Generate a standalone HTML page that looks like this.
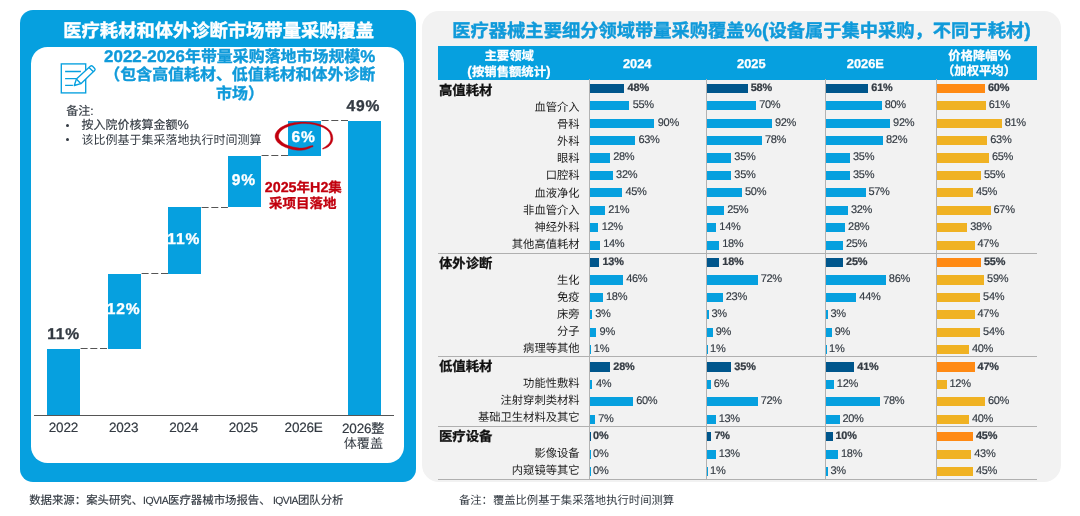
<!DOCTYPE html>
<html lang="zh"><head><meta charset="utf-8"><title>带量采购覆盖</title>
<style>
html,body{margin:0;padding:0;background:#fff}
body{width:1080px;height:516px;position:relative;overflow:hidden;font-family:"Liberation Sans","Noto Sans CJK SC",sans-serif;text-rendering:geometricPrecision}
#page{position:absolute;left:0;top:0;width:1080px;height:516px;will-change:transform}
.r{position:absolute}
.t{position:absolute;white-space:nowrap;line-height:1}
</style></head><body>
<div id="page">
<div class="r" style="left:20.30px;top:10.30px;width:396.00px;height:471.70px;background:#06A0DF;border-radius:13px;"></div>
<div class="r" style="left:31.20px;top:46.60px;width:373.30px;height:416.70px;background:#fff;border-radius:16.5px;"></div>
<div class="t" style="top:22.10px;font-size:18.30px;color:#fff;font-weight:bold;-webkit-text-stroke:0.40px;left:218.70px;transform:translateX(-50%);">医疗耗材和体外诊断市场带量采购覆盖</div>
<div class="t" style="top:48.82px;font-size:15.95px;color:#0F9ADA;font-weight:bold;-webkit-text-stroke:0.35px;right:704.70px;"><span style="font-size:16.91px;">2022-2026</span>年带量采购落地市场规模<span style="font-size:16.91px;">%</span></div>
<div class="t" style="top:68.31px;font-size:15.95px;color:#0F9ADA;font-weight:bold;-webkit-text-stroke:0.35px;right:704.70px;">（包含高值耗材、低值耗材和体外诊断</div>
<div class="t" style="top:86.71px;font-size:15.95px;color:#0F9ADA;font-weight:bold;-webkit-text-stroke:0.35px;left:240.00px;transform:translateX(-50%);">市场）</div>
<svg class="r" style="left:56px;top:58px" width="44" height="40" viewBox="56 58 44 40" fill="none" stroke="#06A0DF" stroke-width="1.35">
<rect x="61.3" y="63.9" width="24.4" height="29"/>
<path d="M65.1 71.5H80.9M65.1 78.6H76.6M65.1 85.4H72.9"/>
<path fill="#fff" stroke-linejoin="round" d="M74.3 85.5L76.4 79L90.3 66.3Q91.5 65.3 92.6 66.3L94.7 68.4Q95.6 69.5 94.6 70.6L80.9 83.7Z"/>
<path d="M76.4 79L80.9 83.7M89 67.6L93.4 71.8"/>
</svg>
<div class="t" style="top:105.05px;font-size:12.00px;color:#333A42;-webkit-text-stroke:0.17px;left:66.20px;">备注:</div>
<div class="r" style="left:66.2px;top:123.6px;width:3px;height:3px;border-radius:50%;background:#333A42"></div>
<div class="t" style="top:119.35px;font-size:12.00px;color:#333A42;-webkit-text-stroke:0.17px;left:81.50px;">按入院价核算金额<span style="font-size:12.72px;">%</span></div>
<div class="r" style="left:66.2px;top:138px;width:3px;height:3px;border-radius:50%;background:#333A42"></div>
<div class="t" style="top:133.75px;font-size:12.00px;color:#333A42;left:81.50px;">该比例基于集采落地执行时间测算</div>
<div class="r" style="left:47.30px;top:348.50px;width:33.10px;height:66.50px;background:#06A0DF;"></div>
<div class="r" style="left:107.50px;top:273.50px;width:33.10px;height:75.00px;background:#06A0DF;"></div>
<div class="r" style="left:167.90px;top:207.00px;width:33.10px;height:66.50px;background:#06A0DF;"></div>
<div class="r" style="left:227.90px;top:155.60px;width:33.10px;height:51.40px;background:#06A0DF;"></div>
<div class="r" style="left:288.00px;top:120.60px;width:33.10px;height:35.00px;background:#06A0DF;"></div>
<div class="r" style="left:348.20px;top:120.60px;width:33.10px;height:294.40px;background:#06A0DF;"></div>
<svg class="r" style="left:80.40px;top:347.00px" width="27.10" height="3"><path d="M0.6 1.5H27.10" stroke="#555" stroke-width="1.1" stroke-dasharray="7 2.7" fill="none"/></svg>
<svg class="r" style="left:140.60px;top:272.00px" width="27.30" height="3"><path d="M0.6 1.5H27.30" stroke="#555" stroke-width="1.1" stroke-dasharray="7 2.7" fill="none"/></svg>
<svg class="r" style="left:201.00px;top:205.50px" width="26.90" height="3"><path d="M0.6 1.5H26.90" stroke="#555" stroke-width="1.1" stroke-dasharray="7 2.7" fill="none"/></svg>
<svg class="r" style="left:261.00px;top:154.10px" width="27.00" height="3"><path d="M0.6 1.5H27.00" stroke="#555" stroke-width="1.1" stroke-dasharray="7 2.7" fill="none"/></svg>
<svg class="r" style="left:321.10px;top:119.10px" width="27.10" height="3"><path d="M0.6 1.5H27.10" stroke="#555" stroke-width="1.1" stroke-dasharray="7 2.7" fill="none"/></svg>
<div class="r" style="left:33.60px;top:414.90px;width:360.20px;height:1.20px;background:#555;"></div>
<div class="t" style="top:326.60px;font-size:15.60px;color:#333A42;font-weight:bold;-webkit-text-stroke:0.34px;letter-spacing:0.80px;left:63.60px;transform:translateX(-50%);">11%</div>
<div class="t" style="top:302.32px;font-size:15.60px;color:#fff;font-weight:bold;-webkit-text-stroke:0.34px;letter-spacing:0.80px;left:123.60px;transform:translateX(-50%);">12%</div>
<div class="t" style="top:232.32px;font-size:15.60px;color:#fff;font-weight:bold;-webkit-text-stroke:0.34px;letter-spacing:0.80px;left:183.70px;transform:translateX(-50%);">11%</div>
<div class="t" style="top:172.90px;font-size:15.60px;color:#fff;font-weight:bold;-webkit-text-stroke:0.34px;letter-spacing:0.80px;left:243.90px;transform:translateX(-50%);">9%</div>
<div class="t" style="top:129.90px;font-size:15.60px;color:#fff;font-weight:bold;-webkit-text-stroke:0.34px;letter-spacing:0.80px;left:303.60px;transform:translateX(-50%);">6%</div>
<div class="t" style="top:99.20px;font-size:15.60px;color:#333A42;font-weight:bold;-webkit-text-stroke:0.34px;letter-spacing:0.80px;left:363.40px;transform:translateX(-50%);">49%</div>
<svg class="r" style="left:265px;top:115px" width="80" height="45" viewBox="265 115 80 45"><path d="M312.8 145.5L311.4 145.8L310.1 146.1L308.7 146.5L307.4 146.9L305.9 147.4L304.4 147.8L302.7 148.0L301.1 148.1L299.4 148.1L297.8 147.8L296.1 147.6L294.5 147.3L292.9 146.9L291.3 146.5L289.8 146.1L288.4 145.6L287.0 145.1L285.8 144.5L284.6 143.9L283.5 143.2L282.5 142.5L281.6 141.8L280.8 141.1L280.1 140.3L279.6 139.6L279.2 138.9L278.8 138.2L278.6 137.5L278.5 136.8L278.5 136.1L278.6 135.4L278.7 134.7L278.9 134.0L279.3 133.3L279.7 132.5L280.3 131.7L280.9 131.0L281.7 130.2L282.6 129.5L283.7 128.8L284.8 128.1L286.0 127.5L287.4 126.9L288.8 126.3L290.2 125.8L291.8 125.3L293.4 124.9L295.0 124.5L296.7 124.2L298.4 123.9L300.2 123.7L302.0 123.6L303.8 123.6L305.6 123.6L307.4 123.7L309.1 123.8L310.9 124.0L312.6 124.3L314.3 124.6L315.9 125.0L317.5 125.4L319.1 125.9L320.5 126.4L321.9 127.0L323.2 127.6L324.4 128.3L325.5 129.0L326.5 129.7L327.4 130.4L328.2 131.2L328.9 132.0L329.4 132.8L329.8 133.7L330.1 134.5L330.4 135.4L330.5 136.2L330.7 137.1L330.8 138.0L330.8 138.8L330.7 139.7L330.5 140.6L330.2 141.4L329.8 142.3L329.2 143.2L328.5 144.1L327.6 145.0L326.5 145.8L325.4 146.7L324.0 147.6L322.5 148.4L322.8 149.2L324.5 148.6L326.1 148.0L327.5 147.3L328.8 146.4L329.8 145.4L330.7 144.4L331.5 143.3L332.0 142.2L332.5 141.1L332.7 140.0L332.9 138.9L332.8 137.9L332.7 136.8L332.5 135.8L332.3 134.8L331.9 133.9L331.5 132.9L331.0 131.9L330.3 131.0L329.5 130.0L328.6 129.2L327.6 128.3L326.5 127.6L325.2 126.8L323.9 126.1L322.6 125.5L321.1 124.9L319.6 124.3L318.0 123.9L316.3 123.4L314.6 123.1L312.9 122.8L311.1 122.5L309.3 122.3L307.5 122.2L305.6 122.1L303.8 122.1L301.9 122.1L300.1 122.1L298.3 122.2L296.4 122.4L294.7 122.6L292.9 122.9L291.2 123.2L289.6 123.6L288.0 124.1L286.5 124.7L285.0 125.3L283.7 125.9L282.4 126.6L281.2 127.3L280.0 128.1L279.0 128.9L278.1 129.8L277.3 130.7L276.6 131.7L276.0 132.7L275.5 133.8L275.2 134.9L275.1 136.0L275.1 137.2L275.4 138.3L275.8 139.4L276.3 140.5L277.0 141.5L277.8 142.4L278.7 143.3L279.7 144.1L280.8 144.9L282.0 145.7L283.3 146.3L284.6 147.0L286.0 147.6L287.5 148.1L289.1 148.6L290.7 149.0L292.3 149.4L294.0 149.8L295.7 150.0L297.5 150.2L299.3 150.3L301.1 150.3L303.0 150.1L304.8 149.8L306.5 149.3L308.0 148.8L309.4 148.3L310.7 147.6L311.8 147.1L313.1 146.7Z" fill="#C2000E" stroke="#C2000E" stroke-width="0.4" stroke-linejoin="round"/></svg>
<div class="t" style="top:181.47px;font-size:13.50px;color:#C2000E;font-weight:bold;-webkit-text-stroke:0.30px;left:303.30px;transform:translateX(-50%);"><span style="font-size:14.31px;">2025</span>年<span style="font-size:14.31px;">H2</span>集</div>
<div class="t" style="top:197.07px;font-size:13.50px;color:#C2000E;font-weight:bold;-webkit-text-stroke:0.30px;left:302.80px;transform:translateX(-50%);">采项目落地</div>
<div class="t" style="top:421.47px;font-size:13.50px;color:#333A42;-webkit-text-stroke:0.19px;letter-spacing:-0.20px;left:63.40px;transform:translateX(-50%);">2022</div>
<div class="t" style="top:421.47px;font-size:13.50px;color:#333A42;-webkit-text-stroke:0.19px;letter-spacing:-0.20px;left:123.60px;transform:translateX(-50%);">2023</div>
<div class="t" style="top:421.47px;font-size:13.50px;color:#333A42;-webkit-text-stroke:0.19px;letter-spacing:-0.20px;left:183.80px;transform:translateX(-50%);">2024</div>
<div class="t" style="top:421.47px;font-size:13.50px;color:#333A42;-webkit-text-stroke:0.19px;letter-spacing:-0.20px;left:243.30px;transform:translateX(-50%);">2025</div>
<div class="t" style="top:421.47px;font-size:13.50px;color:#333A42;-webkit-text-stroke:0.19px;letter-spacing:-0.20px;left:303.60px;transform:translateX(-50%);">2026E</div>
<div class="t" style="top:421.82px;font-size:13.10px;color:#333A42;-webkit-text-stroke:0.18px;left:363.20px;transform:translateX(-50%);"><span style="font-size:13.5px;letter-spacing:-0.2px;">2026</span>整</div>
<div class="t" style="top:437.42px;font-size:13.10px;color:#333A42;left:363.40px;transform:translateX(-50%);">体覆盖</div>
<div class="t" style="top:495.56px;font-size:11.40px;color:#333A42;-webkit-text-stroke:0.16px;left:29.20px;">数据来源：案头研究、<span style="font-size:10.4px;letter-spacing:-0.55px">IQVIA</span>医疗器械市场报告、<span style="font-size:10.4px;letter-spacing:-0.55px">&nbsp;IQVIA</span>团队分析</div>
<div class="r" style="left:422.00px;top:10.80px;width:638.60px;height:471.00px;background:#F2F2F2;border-radius:17px;"></div>
<div class="t" style="top:22.15px;font-size:18.27px;color:#0F9ADA;font-weight:bold;-webkit-text-stroke:0.40px;left:452.30px;">医疗器械主要细分领域带量采购覆盖<span style="font-size:19.55px;">%(</span>设备属于集中采购，不同于耗材<span style="font-size:19.55px;">)</span></div>
<div class="r" style="left:438.20px;top:46.20px;width:598.90px;height:33.40px;background:#06A0DF;"></div>
<div class="t" style="top:49.55px;font-size:12.35px;color:#fff;font-weight:bold;-webkit-text-stroke:0.27px;left:509.20px;transform:translateX(-50%);">主要领域</div>
<div class="t" style="top:65.12px;font-size:12.35px;color:#fff;font-weight:bold;-webkit-text-stroke:0.27px;left:509.00px;transform:translateX(-50%);"><span style="font-size:13.83px;">(</span>按销售额统计<span style="font-size:13.83px;">)</span></div>
<div class="t" style="top:57.54px;font-size:12.83px;color:#fff;font-weight:bold;-webkit-text-stroke:0.28px;left:637.20px;transform:translateX(-50%);">2024</div>
<div class="t" style="top:57.54px;font-size:12.83px;color:#fff;font-weight:bold;-webkit-text-stroke:0.28px;left:751.30px;transform:translateX(-50%);">2025</div>
<div class="t" style="top:57.54px;font-size:12.83px;color:#fff;font-weight:bold;-webkit-text-stroke:0.28px;left:865.30px;transform:translateX(-50%);">2026E</div>
<div class="t" style="top:49.43px;font-size:12.35px;color:#fff;font-weight:bold;-webkit-text-stroke:0.27px;left:979.50px;transform:translateX(-50%);">价格降幅<span style="font-size:14.57px;">%</span></div>
<div class="t" style="top:65.24px;font-size:12.35px;color:#fff;font-weight:bold;-webkit-text-stroke:0.27px;left:979.00px;transform:translateX(-50%);">（加权平均）</div>
<div class="r" style="left:589.00px;top:79.40px;width:1.00px;height:400.30px;background:#b2b2b2;"></div>
<div class="r" style="left:705.90px;top:79.40px;width:1.00px;height:400.30px;background:#b2b2b2;"></div>
<div class="r" style="left:824.90px;top:79.40px;width:1.00px;height:400.30px;background:#b2b2b2;"></div>
<div class="r" style="left:936.40px;top:79.40px;width:1.00px;height:400.30px;background:#b2b2b2;"></div>
<div class="r" style="left:438.20px;top:252.80px;width:598.70px;height:1.00px;background:#b0b0b0;"></div>
<div class="r" style="left:438.20px;top:355.50px;width:598.70px;height:1.00px;background:#b0b0b0;"></div>
<div class="r" style="left:438.20px;top:425.50px;width:598.70px;height:1.00px;background:#b0b0b0;"></div>
<div class="r" style="left:438.20px;top:478.70px;width:598.70px;height:1.00px;background:#b0b0b0;"></div>
<div class="t" style="top:83.88px;font-size:13.35px;color:#111;font-weight:bold;-webkit-text-stroke:0.29px;left:439.00px;">高值耗材</div>
<div class="r" style="left:589.60px;top:83.75px;width:34.51px;height:9.20px;background:#00568C;"></div>
<div class="t" style="top:83.02px;font-size:10.90px;color:#333A42;font-weight:bold;-webkit-text-stroke:0.24px;letter-spacing:-0.15px;left:627.61px;">48%</div>
<div class="r" style="left:706.50px;top:83.75px;width:41.30px;height:9.20px;background:#00568C;"></div>
<div class="t" style="top:83.02px;font-size:10.90px;color:#333A42;font-weight:bold;-webkit-text-stroke:0.24px;letter-spacing:-0.15px;left:750.70px;">58%</div>
<div class="r" style="left:825.50px;top:83.75px;width:42.88px;height:9.20px;background:#00568C;"></div>
<div class="t" style="top:83.02px;font-size:10.90px;color:#333A42;font-weight:bold;-webkit-text-stroke:0.24px;letter-spacing:-0.15px;left:871.28px;">61%</div>
<div class="r" style="left:937.00px;top:83.75px;width:48.00px;height:9.20px;background:#FF8A14;"></div>
<div class="t" style="top:83.02px;font-size:10.90px;color:#333A42;font-weight:bold;-webkit-text-stroke:0.24px;letter-spacing:-0.15px;left:987.90px;">60%</div>
<div class="t" style="top:102.75px;font-size:11.30px;color:#1c1c1c;right:500.40px;">血管介入</div>
<div class="r" style="left:589.60px;top:101.17px;width:39.55px;height:9.20px;background:#06A0DF;"></div>
<div class="t" style="top:100.10px;font-size:11.00px;color:#333A42;-webkit-text-stroke:0.15px;letter-spacing:-0.30px;left:632.64px;">55%</div>
<div class="r" style="left:706.50px;top:101.17px;width:49.84px;height:9.20px;background:#06A0DF;"></div>
<div class="t" style="top:100.10px;font-size:11.00px;color:#333A42;-webkit-text-stroke:0.15px;letter-spacing:-0.30px;left:759.24px;">70%</div>
<div class="r" style="left:825.50px;top:101.17px;width:56.24px;height:9.20px;background:#06A0DF;"></div>
<div class="t" style="top:100.10px;font-size:11.00px;color:#333A42;-webkit-text-stroke:0.15px;letter-spacing:-0.30px;left:884.64px;">80%</div>
<div class="r" style="left:937.00px;top:101.17px;width:48.80px;height:9.20px;background:#F0B223;"></div>
<div class="t" style="top:100.10px;font-size:11.00px;color:#333A42;-webkit-text-stroke:0.15px;letter-spacing:-0.30px;left:988.70px;">61%</div>
<div class="t" style="top:119.91px;font-size:11.30px;color:#1c1c1c;right:500.40px;">骨科</div>
<div class="r" style="left:589.60px;top:118.59px;width:64.71px;height:9.20px;background:#06A0DF;"></div>
<div class="t" style="top:117.53px;font-size:11.00px;color:#333A42;-webkit-text-stroke:0.15px;letter-spacing:-0.30px;left:657.81px;">90%</div>
<div class="r" style="left:706.50px;top:118.59px;width:65.50px;height:9.20px;background:#06A0DF;"></div>
<div class="t" style="top:117.53px;font-size:11.00px;color:#333A42;-webkit-text-stroke:0.15px;letter-spacing:-0.30px;left:774.90px;">92%</div>
<div class="r" style="left:825.50px;top:118.59px;width:64.68px;height:9.20px;background:#06A0DF;"></div>
<div class="t" style="top:117.53px;font-size:11.00px;color:#333A42;-webkit-text-stroke:0.15px;letter-spacing:-0.30px;left:893.08px;">92%</div>
<div class="r" style="left:937.00px;top:118.59px;width:64.80px;height:9.20px;background:#F0B223;"></div>
<div class="t" style="top:117.53px;font-size:11.00px;color:#333A42;-webkit-text-stroke:0.15px;letter-spacing:-0.30px;left:1004.70px;">81%</div>
<div class="t" style="top:137.04px;font-size:11.30px;color:#1c1c1c;right:500.40px;">外科</div>
<div class="r" style="left:589.60px;top:136.01px;width:45.30px;height:9.20px;background:#06A0DF;"></div>
<div class="t" style="top:134.95px;font-size:11.00px;color:#333A42;-webkit-text-stroke:0.15px;letter-spacing:-0.30px;left:638.40px;">63%</div>
<div class="r" style="left:706.50px;top:136.01px;width:55.54px;height:9.20px;background:#06A0DF;"></div>
<div class="t" style="top:134.95px;font-size:11.00px;color:#333A42;-webkit-text-stroke:0.15px;letter-spacing:-0.30px;left:764.94px;">78%</div>
<div class="r" style="left:825.50px;top:136.01px;width:57.65px;height:9.20px;background:#06A0DF;"></div>
<div class="t" style="top:134.95px;font-size:11.00px;color:#333A42;-webkit-text-stroke:0.15px;letter-spacing:-0.30px;left:886.05px;">82%</div>
<div class="r" style="left:937.00px;top:136.01px;width:50.40px;height:9.20px;background:#F0B223;"></div>
<div class="t" style="top:134.95px;font-size:11.00px;color:#333A42;-webkit-text-stroke:0.15px;letter-spacing:-0.30px;left:990.30px;">63%</div>
<div class="t" style="top:154.20px;font-size:11.30px;color:#1c1c1c;right:500.40px;">眼科</div>
<div class="r" style="left:589.60px;top:153.43px;width:20.13px;height:9.20px;background:#06A0DF;"></div>
<div class="t" style="top:152.37px;font-size:11.00px;color:#333A42;-webkit-text-stroke:0.15px;letter-spacing:-0.30px;left:613.23px;">28%</div>
<div class="r" style="left:706.50px;top:153.43px;width:24.92px;height:9.20px;background:#06A0DF;"></div>
<div class="t" style="top:152.37px;font-size:11.00px;color:#333A42;-webkit-text-stroke:0.15px;letter-spacing:-0.30px;left:734.32px;">35%</div>
<div class="r" style="left:825.50px;top:153.43px;width:24.60px;height:9.20px;background:#06A0DF;"></div>
<div class="t" style="top:152.37px;font-size:11.00px;color:#333A42;-webkit-text-stroke:0.15px;letter-spacing:-0.30px;left:853.00px;">35%</div>
<div class="r" style="left:937.00px;top:153.43px;width:52.00px;height:9.20px;background:#F0B223;"></div>
<div class="t" style="top:152.37px;font-size:11.00px;color:#333A42;-webkit-text-stroke:0.15px;letter-spacing:-0.30px;left:991.90px;">65%</div>
<div class="t" style="top:171.35px;font-size:11.30px;color:#1c1c1c;right:500.40px;">口腔科</div>
<div class="r" style="left:589.60px;top:170.85px;width:23.01px;height:9.20px;background:#06A0DF;"></div>
<div class="t" style="top:169.79px;font-size:11.00px;color:#333A42;-webkit-text-stroke:0.15px;letter-spacing:-0.30px;left:616.11px;">32%</div>
<div class="r" style="left:706.50px;top:170.85px;width:24.92px;height:9.20px;background:#06A0DF;"></div>
<div class="t" style="top:169.79px;font-size:11.00px;color:#333A42;-webkit-text-stroke:0.15px;letter-spacing:-0.30px;left:734.32px;">35%</div>
<div class="r" style="left:825.50px;top:170.85px;width:24.60px;height:9.20px;background:#06A0DF;"></div>
<div class="t" style="top:169.79px;font-size:11.00px;color:#333A42;-webkit-text-stroke:0.15px;letter-spacing:-0.30px;left:853.00px;">35%</div>
<div class="r" style="left:937.00px;top:170.85px;width:44.00px;height:9.20px;background:#F0B223;"></div>
<div class="t" style="top:169.79px;font-size:11.00px;color:#333A42;-webkit-text-stroke:0.15px;letter-spacing:-0.30px;left:983.90px;">55%</div>
<div class="t" style="top:188.50px;font-size:11.30px;color:#1c1c1c;right:500.40px;">血液净化</div>
<div class="r" style="left:589.60px;top:188.27px;width:32.35px;height:9.20px;background:#06A0DF;"></div>
<div class="t" style="top:187.21px;font-size:11.00px;color:#333A42;-webkit-text-stroke:0.15px;letter-spacing:-0.30px;left:625.46px;">45%</div>
<div class="r" style="left:706.50px;top:188.27px;width:35.60px;height:9.20px;background:#06A0DF;"></div>
<div class="t" style="top:187.21px;font-size:11.00px;color:#333A42;-webkit-text-stroke:0.15px;letter-spacing:-0.30px;left:745.00px;">50%</div>
<div class="r" style="left:825.50px;top:188.27px;width:40.07px;height:9.20px;background:#06A0DF;"></div>
<div class="t" style="top:187.21px;font-size:11.00px;color:#333A42;-webkit-text-stroke:0.15px;letter-spacing:-0.30px;left:868.47px;">57%</div>
<div class="r" style="left:937.00px;top:188.27px;width:36.00px;height:9.20px;background:#F0B223;"></div>
<div class="t" style="top:187.21px;font-size:11.00px;color:#333A42;-webkit-text-stroke:0.15px;letter-spacing:-0.30px;left:975.90px;">45%</div>
<div class="t" style="top:205.66px;font-size:11.30px;color:#1c1c1c;right:500.40px;">非血管介入</div>
<div class="r" style="left:589.60px;top:205.69px;width:15.10px;height:9.20px;background:#06A0DF;"></div>
<div class="t" style="top:204.63px;font-size:11.00px;color:#333A42;-webkit-text-stroke:0.15px;letter-spacing:-0.30px;left:608.20px;">21%</div>
<div class="r" style="left:706.50px;top:205.69px;width:17.80px;height:9.20px;background:#06A0DF;"></div>
<div class="t" style="top:204.63px;font-size:11.00px;color:#333A42;-webkit-text-stroke:0.15px;letter-spacing:-0.30px;left:727.20px;">25%</div>
<div class="r" style="left:825.50px;top:205.69px;width:22.50px;height:9.20px;background:#06A0DF;"></div>
<div class="t" style="top:204.63px;font-size:11.00px;color:#333A42;-webkit-text-stroke:0.15px;letter-spacing:-0.30px;left:850.90px;">32%</div>
<div class="r" style="left:937.00px;top:205.69px;width:53.60px;height:9.20px;background:#F0B223;"></div>
<div class="t" style="top:204.63px;font-size:11.00px;color:#333A42;-webkit-text-stroke:0.15px;letter-spacing:-0.30px;left:993.50px;">67%</div>
<div class="t" style="top:222.79px;font-size:11.30px;color:#1c1c1c;right:500.40px;">神经外科</div>
<div class="r" style="left:589.60px;top:223.11px;width:8.63px;height:9.20px;background:#06A0DF;"></div>
<div class="t" style="top:222.05px;font-size:11.00px;color:#333A42;-webkit-text-stroke:0.15px;letter-spacing:-0.30px;left:601.73px;">12%</div>
<div class="r" style="left:706.50px;top:223.11px;width:9.97px;height:9.20px;background:#06A0DF;"></div>
<div class="t" style="top:222.05px;font-size:11.00px;color:#333A42;-webkit-text-stroke:0.15px;letter-spacing:-0.30px;left:719.37px;">14%</div>
<div class="r" style="left:825.50px;top:223.11px;width:19.68px;height:9.20px;background:#06A0DF;"></div>
<div class="t" style="top:222.05px;font-size:11.00px;color:#333A42;-webkit-text-stroke:0.15px;letter-spacing:-0.30px;left:848.08px;">28%</div>
<div class="r" style="left:937.00px;top:223.11px;width:30.40px;height:9.20px;background:#F0B223;"></div>
<div class="t" style="top:222.05px;font-size:11.00px;color:#333A42;-webkit-text-stroke:0.15px;letter-spacing:-0.30px;left:970.30px;">38%</div>
<div class="t" style="top:239.95px;font-size:11.30px;color:#1c1c1c;right:500.40px;">其他高值耗材</div>
<div class="r" style="left:589.60px;top:240.53px;width:10.07px;height:9.20px;background:#06A0DF;"></div>
<div class="t" style="top:239.46px;font-size:11.00px;color:#333A42;-webkit-text-stroke:0.15px;letter-spacing:-0.30px;left:603.17px;">14%</div>
<div class="r" style="left:706.50px;top:240.53px;width:12.82px;height:9.20px;background:#06A0DF;"></div>
<div class="t" style="top:239.46px;font-size:11.00px;color:#333A42;-webkit-text-stroke:0.15px;letter-spacing:-0.30px;left:722.22px;">18%</div>
<div class="r" style="left:825.50px;top:240.53px;width:17.57px;height:9.20px;background:#06A0DF;"></div>
<div class="t" style="top:239.46px;font-size:11.00px;color:#333A42;-webkit-text-stroke:0.15px;letter-spacing:-0.30px;left:845.98px;">25%</div>
<div class="r" style="left:937.00px;top:240.53px;width:37.60px;height:9.20px;background:#F0B223;"></div>
<div class="t" style="top:239.46px;font-size:11.00px;color:#333A42;-webkit-text-stroke:0.15px;letter-spacing:-0.30px;left:977.50px;">47%</div>
<div class="t" style="top:257.28px;font-size:13.35px;color:#111;font-weight:bold;-webkit-text-stroke:0.29px;left:439.00px;">体外诊断</div>
<div class="r" style="left:589.60px;top:257.95px;width:9.35px;height:9.20px;background:#00568C;"></div>
<div class="t" style="top:257.22px;font-size:10.90px;color:#333A42;font-weight:bold;-webkit-text-stroke:0.24px;letter-spacing:-0.15px;left:602.45px;">13%</div>
<div class="r" style="left:706.50px;top:257.95px;width:12.82px;height:9.20px;background:#00568C;"></div>
<div class="t" style="top:257.22px;font-size:10.90px;color:#333A42;font-weight:bold;-webkit-text-stroke:0.24px;letter-spacing:-0.15px;left:722.22px;">18%</div>
<div class="r" style="left:825.50px;top:257.95px;width:17.57px;height:9.20px;background:#00568C;"></div>
<div class="t" style="top:257.22px;font-size:10.90px;color:#333A42;font-weight:bold;-webkit-text-stroke:0.24px;letter-spacing:-0.15px;left:845.98px;">25%</div>
<div class="r" style="left:937.00px;top:257.95px;width:44.00px;height:9.20px;background:#FF8A14;"></div>
<div class="t" style="top:257.22px;font-size:10.90px;color:#333A42;font-weight:bold;-webkit-text-stroke:0.24px;letter-spacing:-0.15px;left:983.90px;">55%</div>
<div class="t" style="top:276.04px;font-size:11.30px;color:#1c1c1c;right:500.40px;">生化</div>
<div class="r" style="left:589.60px;top:275.37px;width:33.07px;height:9.20px;background:#06A0DF;"></div>
<div class="t" style="top:274.31px;font-size:11.00px;color:#333A42;-webkit-text-stroke:0.15px;letter-spacing:-0.30px;left:626.17px;">46%</div>
<div class="r" style="left:706.50px;top:275.37px;width:51.26px;height:9.20px;background:#06A0DF;"></div>
<div class="t" style="top:274.31px;font-size:11.00px;color:#333A42;-webkit-text-stroke:0.15px;letter-spacing:-0.30px;left:760.66px;">72%</div>
<div class="r" style="left:825.50px;top:275.37px;width:60.46px;height:9.20px;background:#06A0DF;"></div>
<div class="t" style="top:274.31px;font-size:11.00px;color:#333A42;-webkit-text-stroke:0.15px;letter-spacing:-0.30px;left:888.86px;">86%</div>
<div class="r" style="left:937.00px;top:275.37px;width:47.20px;height:9.20px;background:#F0B223;"></div>
<div class="t" style="top:274.31px;font-size:11.00px;color:#333A42;-webkit-text-stroke:0.15px;letter-spacing:-0.30px;left:987.10px;">59%</div>
<div class="t" style="top:293.10px;font-size:11.30px;color:#1c1c1c;right:500.40px;">免疫</div>
<div class="r" style="left:589.60px;top:292.79px;width:12.94px;height:9.20px;background:#06A0DF;"></div>
<div class="t" style="top:291.73px;font-size:11.00px;color:#333A42;-webkit-text-stroke:0.15px;letter-spacing:-0.30px;left:606.04px;">18%</div>
<div class="r" style="left:706.50px;top:292.79px;width:16.38px;height:9.20px;background:#06A0DF;"></div>
<div class="t" style="top:291.73px;font-size:11.00px;color:#333A42;-webkit-text-stroke:0.15px;letter-spacing:-0.30px;left:725.78px;">23%</div>
<div class="r" style="left:825.50px;top:292.79px;width:30.93px;height:9.20px;background:#06A0DF;"></div>
<div class="t" style="top:291.73px;font-size:11.00px;color:#333A42;-webkit-text-stroke:0.15px;letter-spacing:-0.30px;left:859.33px;">44%</div>
<div class="r" style="left:937.00px;top:292.79px;width:43.20px;height:9.20px;background:#F0B223;"></div>
<div class="t" style="top:291.73px;font-size:11.00px;color:#333A42;-webkit-text-stroke:0.15px;letter-spacing:-0.30px;left:983.10px;">54%</div>
<div class="t" style="top:310.16px;font-size:11.30px;color:#1c1c1c;right:500.40px;">床旁</div>
<div class="r" style="left:589.60px;top:310.21px;width:2.16px;height:9.20px;background:#06A0DF;"></div>
<div class="t" style="top:309.15px;font-size:11.00px;color:#333A42;-webkit-text-stroke:0.15px;letter-spacing:-0.30px;left:595.26px;">3%</div>
<div class="r" style="left:706.50px;top:310.21px;width:2.14px;height:9.20px;background:#06A0DF;"></div>
<div class="t" style="top:309.15px;font-size:11.00px;color:#333A42;-webkit-text-stroke:0.15px;letter-spacing:-0.30px;left:711.54px;">3%</div>
<div class="r" style="left:825.50px;top:310.21px;width:2.11px;height:9.20px;background:#06A0DF;"></div>
<div class="t" style="top:309.15px;font-size:11.00px;color:#333A42;-webkit-text-stroke:0.15px;letter-spacing:-0.30px;left:830.51px;">3%</div>
<div class="r" style="left:937.00px;top:310.21px;width:37.60px;height:9.20px;background:#F0B223;"></div>
<div class="t" style="top:309.15px;font-size:11.00px;color:#333A42;-webkit-text-stroke:0.15px;letter-spacing:-0.30px;left:977.50px;">47%</div>
<div class="t" style="top:327.20px;font-size:11.30px;color:#1c1c1c;right:500.40px;">分子</div>
<div class="r" style="left:589.60px;top:327.63px;width:6.47px;height:9.20px;background:#06A0DF;"></div>
<div class="t" style="top:326.57px;font-size:11.00px;color:#333A42;-webkit-text-stroke:0.15px;letter-spacing:-0.30px;left:599.57px;">9%</div>
<div class="r" style="left:706.50px;top:327.63px;width:6.41px;height:9.20px;background:#06A0DF;"></div>
<div class="t" style="top:326.57px;font-size:11.00px;color:#333A42;-webkit-text-stroke:0.15px;letter-spacing:-0.30px;left:715.81px;">9%</div>
<div class="r" style="left:825.50px;top:327.63px;width:6.33px;height:9.20px;background:#06A0DF;"></div>
<div class="t" style="top:326.57px;font-size:11.00px;color:#333A42;-webkit-text-stroke:0.15px;letter-spacing:-0.30px;left:834.73px;">9%</div>
<div class="r" style="left:937.00px;top:327.63px;width:43.20px;height:9.20px;background:#F0B223;"></div>
<div class="t" style="top:326.57px;font-size:11.00px;color:#333A42;-webkit-text-stroke:0.15px;letter-spacing:-0.30px;left:983.10px;">54%</div>
<div class="t" style="top:344.25px;font-size:11.30px;color:#1c1c1c;right:500.40px;">病理等其他</div>
<div class="r" style="left:589.60px;top:345.05px;width:0.80px;height:9.20px;background:#06A0DF;"></div>
<div class="t" style="top:343.99px;font-size:11.00px;color:#333A42;-webkit-text-stroke:0.15px;letter-spacing:-0.30px;left:593.82px;">1%</div>
<div class="r" style="left:706.50px;top:345.05px;width:0.80px;height:9.20px;background:#06A0DF;"></div>
<div class="t" style="top:343.99px;font-size:11.00px;color:#333A42;-webkit-text-stroke:0.15px;letter-spacing:-0.30px;left:710.11px;">1%</div>
<div class="r" style="left:825.50px;top:345.05px;width:0.80px;height:9.20px;background:#06A0DF;"></div>
<div class="t" style="top:343.99px;font-size:11.00px;color:#333A42;-webkit-text-stroke:0.15px;letter-spacing:-0.30px;left:829.10px;">1%</div>
<div class="r" style="left:937.00px;top:345.05px;width:32.00px;height:9.20px;background:#F0B223;"></div>
<div class="t" style="top:343.99px;font-size:11.00px;color:#333A42;-webkit-text-stroke:0.15px;letter-spacing:-0.30px;left:971.90px;">40%</div>
<div class="t" style="top:360.47px;font-size:13.35px;color:#111;font-weight:bold;-webkit-text-stroke:0.29px;left:439.00px;">低值耗材</div>
<div class="r" style="left:589.60px;top:362.47px;width:20.13px;height:9.20px;background:#00568C;"></div>
<div class="t" style="top:361.74px;font-size:10.90px;color:#333A42;font-weight:bold;-webkit-text-stroke:0.24px;letter-spacing:-0.15px;left:613.23px;">28%</div>
<div class="r" style="left:706.50px;top:362.47px;width:24.92px;height:9.20px;background:#00568C;"></div>
<div class="t" style="top:361.74px;font-size:10.90px;color:#333A42;font-weight:bold;-webkit-text-stroke:0.24px;letter-spacing:-0.15px;left:734.32px;">35%</div>
<div class="r" style="left:825.50px;top:362.47px;width:28.82px;height:9.20px;background:#00568C;"></div>
<div class="t" style="top:361.74px;font-size:10.90px;color:#333A42;font-weight:bold;-webkit-text-stroke:0.24px;letter-spacing:-0.15px;left:857.22px;">41%</div>
<div class="r" style="left:937.00px;top:362.47px;width:37.60px;height:9.20px;background:#FF8A14;"></div>
<div class="t" style="top:361.74px;font-size:10.90px;color:#333A42;font-weight:bold;-webkit-text-stroke:0.24px;letter-spacing:-0.15px;left:977.50px;">47%</div>
<div class="t" style="top:379.04px;font-size:11.30px;color:#1c1c1c;right:500.40px;">功能性敷料</div>
<div class="r" style="left:589.60px;top:379.89px;width:2.88px;height:9.20px;background:#06A0DF;"></div>
<div class="t" style="top:378.82px;font-size:11.00px;color:#333A42;-webkit-text-stroke:0.15px;letter-spacing:-0.30px;left:595.98px;">4%</div>
<div class="r" style="left:706.50px;top:379.89px;width:4.27px;height:9.20px;background:#06A0DF;"></div>
<div class="t" style="top:378.82px;font-size:11.00px;color:#333A42;-webkit-text-stroke:0.15px;letter-spacing:-0.30px;left:713.67px;">6%</div>
<div class="r" style="left:825.50px;top:379.89px;width:8.44px;height:9.20px;background:#06A0DF;"></div>
<div class="t" style="top:378.82px;font-size:11.00px;color:#333A42;-webkit-text-stroke:0.15px;letter-spacing:-0.30px;left:836.84px;">12%</div>
<div class="r" style="left:937.00px;top:379.89px;width:9.60px;height:9.20px;background:#F0B223;"></div>
<div class="t" style="top:378.82px;font-size:11.00px;color:#333A42;-webkit-text-stroke:0.15px;letter-spacing:-0.30px;left:949.50px;">12%</div>
<div class="t" style="top:395.91px;font-size:11.30px;color:#1c1c1c;right:500.40px;">注射穿刺类材料</div>
<div class="r" style="left:589.60px;top:397.31px;width:43.14px;height:9.20px;background:#06A0DF;"></div>
<div class="t" style="top:396.24px;font-size:11.00px;color:#333A42;-webkit-text-stroke:0.15px;letter-spacing:-0.30px;left:636.24px;">60%</div>
<div class="r" style="left:706.50px;top:397.31px;width:51.26px;height:9.20px;background:#06A0DF;"></div>
<div class="t" style="top:396.24px;font-size:11.00px;color:#333A42;-webkit-text-stroke:0.15px;letter-spacing:-0.30px;left:760.66px;">72%</div>
<div class="r" style="left:825.50px;top:397.31px;width:54.83px;height:9.20px;background:#06A0DF;"></div>
<div class="t" style="top:396.24px;font-size:11.00px;color:#333A42;-webkit-text-stroke:0.15px;letter-spacing:-0.30px;left:883.23px;">78%</div>
<div class="r" style="left:937.00px;top:397.31px;width:48.00px;height:9.20px;background:#F0B223;"></div>
<div class="t" style="top:396.24px;font-size:11.00px;color:#333A42;-webkit-text-stroke:0.15px;letter-spacing:-0.30px;left:987.90px;">60%</div>
<div class="t" style="top:412.75px;font-size:11.30px;color:#1c1c1c;right:500.40px;">基础卫生材料及其它</div>
<div class="r" style="left:589.60px;top:414.73px;width:5.03px;height:9.20px;background:#06A0DF;"></div>
<div class="t" style="top:413.67px;font-size:11.00px;color:#333A42;-webkit-text-stroke:0.15px;letter-spacing:-0.30px;left:598.13px;">7%</div>
<div class="r" style="left:706.50px;top:414.73px;width:9.26px;height:9.20px;background:#06A0DF;"></div>
<div class="t" style="top:413.67px;font-size:11.00px;color:#333A42;-webkit-text-stroke:0.15px;letter-spacing:-0.30px;left:718.66px;">13%</div>
<div class="r" style="left:825.50px;top:414.73px;width:14.06px;height:9.20px;background:#06A0DF;"></div>
<div class="t" style="top:413.67px;font-size:11.00px;color:#333A42;-webkit-text-stroke:0.15px;letter-spacing:-0.30px;left:842.46px;">20%</div>
<div class="r" style="left:937.00px;top:414.73px;width:32.00px;height:9.20px;background:#F0B223;"></div>
<div class="t" style="top:413.67px;font-size:11.00px;color:#333A42;-webkit-text-stroke:0.15px;letter-spacing:-0.30px;left:971.90px;">40%</div>
<div class="t" style="top:429.68px;font-size:13.35px;color:#111;font-weight:bold;-webkit-text-stroke:0.29px;left:439.00px;">医疗设备</div>
<div class="r" style="left:589.60px;top:432.15px;width:0.80px;height:9.20px;background:#00568C;"></div>
<div class="t" style="top:431.42px;font-size:10.90px;color:#333A42;font-weight:bold;-webkit-text-stroke:0.24px;letter-spacing:-0.15px;left:593.10px;">0%</div>
<div class="r" style="left:706.50px;top:432.15px;width:4.98px;height:9.20px;background:#00568C;"></div>
<div class="t" style="top:431.42px;font-size:10.90px;color:#333A42;font-weight:bold;-webkit-text-stroke:0.24px;letter-spacing:-0.15px;left:714.38px;">7%</div>
<div class="r" style="left:825.50px;top:432.15px;width:7.03px;height:9.20px;background:#00568C;"></div>
<div class="t" style="top:431.42px;font-size:10.90px;color:#333A42;font-weight:bold;-webkit-text-stroke:0.24px;letter-spacing:-0.15px;left:835.43px;">10%</div>
<div class="r" style="left:937.00px;top:432.15px;width:36.00px;height:9.20px;background:#FF8A14;"></div>
<div class="t" style="top:431.42px;font-size:10.90px;color:#333A42;font-weight:bold;-webkit-text-stroke:0.24px;letter-spacing:-0.15px;left:975.90px;">45%</div>
<div class="t" style="top:448.54px;font-size:11.30px;color:#1c1c1c;right:500.40px;">影像设备</div>
<div class="r" style="left:589.60px;top:449.57px;width:0.80px;height:9.20px;background:#06A0DF;"></div>
<div class="t" style="top:448.51px;font-size:11.00px;color:#333A42;-webkit-text-stroke:0.15px;letter-spacing:-0.30px;left:593.10px;">0%</div>
<div class="r" style="left:706.50px;top:449.57px;width:9.26px;height:9.20px;background:#06A0DF;"></div>
<div class="t" style="top:448.51px;font-size:11.00px;color:#333A42;-webkit-text-stroke:0.15px;letter-spacing:-0.30px;left:718.66px;">13%</div>
<div class="r" style="left:825.50px;top:449.57px;width:12.65px;height:9.20px;background:#06A0DF;"></div>
<div class="t" style="top:448.51px;font-size:11.00px;color:#333A42;-webkit-text-stroke:0.15px;letter-spacing:-0.30px;left:841.05px;">18%</div>
<div class="r" style="left:937.00px;top:449.57px;width:34.40px;height:9.20px;background:#F0B223;"></div>
<div class="t" style="top:448.51px;font-size:11.00px;color:#333A42;-webkit-text-stroke:0.15px;letter-spacing:-0.30px;left:974.30px;">43%</div>
<div class="t" style="top:465.70px;font-size:11.30px;color:#1c1c1c;right:500.40px;">内窥镜等其它</div>
<div class="r" style="left:589.60px;top:466.99px;width:0.80px;height:9.20px;background:#06A0DF;"></div>
<div class="t" style="top:465.93px;font-size:11.00px;color:#333A42;-webkit-text-stroke:0.15px;letter-spacing:-0.30px;left:593.10px;">0%</div>
<div class="r" style="left:706.50px;top:466.99px;width:0.80px;height:9.20px;background:#06A0DF;"></div>
<div class="t" style="top:465.93px;font-size:11.00px;color:#333A42;-webkit-text-stroke:0.15px;letter-spacing:-0.30px;left:710.11px;">1%</div>
<div class="r" style="left:825.50px;top:466.99px;width:2.11px;height:9.20px;background:#06A0DF;"></div>
<div class="t" style="top:465.93px;font-size:11.00px;color:#333A42;-webkit-text-stroke:0.15px;letter-spacing:-0.30px;left:830.51px;">3%</div>
<div class="r" style="left:937.00px;top:466.99px;width:36.00px;height:9.20px;background:#F0B223;"></div>
<div class="t" style="top:465.93px;font-size:11.00px;color:#333A42;-webkit-text-stroke:0.15px;letter-spacing:-0.30px;left:975.90px;">45%</div>
<div class="t" style="top:495.83px;font-size:11.33px;color:#333A42;left:458.90px;">备注：覆盖比例基于集采落地执行时间测算</div>
</div>
</body></html>
